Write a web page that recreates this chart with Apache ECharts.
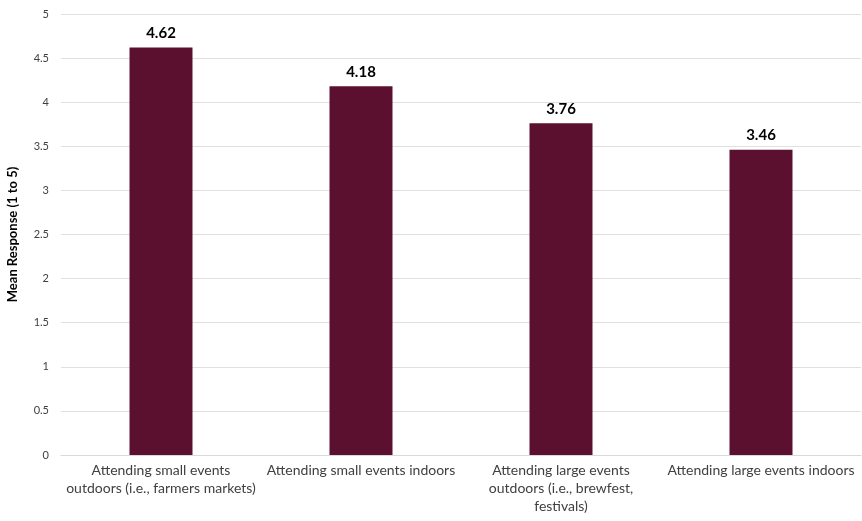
<!DOCTYPE html>
<html>
<head>
<meta charset="utf-8">
<script src="https://cdn.jsdelivr.net/npm/echarts@6/dist/echarts.min.js"></script>
<style>
  html, body { margin: 0; padding: 0; background: #fff; }
  #chart { width: 862px; height: 521px; }
</style>
</head>
<body>
<div id="chart"></div>
<script>
// categories (line breaks as in the picture)
var categories = [
  "Attending small events\noutdoors (i.e., farmers markets)",
  "Attending small events indoors",
  "Attending large events\noutdoors (i.e., brewfest,\nfestivals)",
  "Attending large events indoors"
];
var meanValues = [4.62, 4.18, 3.76, 3.46];

var myChart = echarts.init(document.getElementById("chart"));
myChart.setOption({
  animation: false,
  textStyle: { fontFamily: "Lato, 'Open Sans', sans-serif" },
  grid: { left: 61, right: 1, top: 14, bottom: 66, outerBoundsMode: "none" },
  xAxis: {
    type: "category",
    data: categories,
    axisTick: { show: false },
    axisLine: { lineStyle: { color: "#d9d9d9" } },
    axisLabel: {
      interval: 0,
      color: "#404040",
      fontSize: 14,
      lineHeight: 18,
      margin: 6,
    },
  },
  yAxis: {
    type: "value",
    min: 0,
    max: 5,
    interval: 0.5,
    name: "Mean Response (1 to 5)",
    nameLocation: "middle",
    nameGap: 42,
    nameTextStyle: { fontSize: 13, fontWeight: "bold", color: "#000" },
    axisLine: { show: false },
    axisTick: { show: false },
    axisLabel: { color: "#404040", fontSize: 11, margin: 12 },
    splitLine: { lineStyle: { color: "#e0e0e0" } },
  },
  series: [
    {
      type: "bar",
      data: meanValues,
      barWidth: "31.5%",
      itemStyle: { color: "#5c1030" },
      label: {
        show: true,
        position: "top",
        distance: 7,
        color: "#000",
        fontWeight: "bold",
        fontSize: 15,
        formatter: function (p) {
          return p.value.toFixed(2);
        },
      },
    },
  ],
});
</script>
</body>
</html>
